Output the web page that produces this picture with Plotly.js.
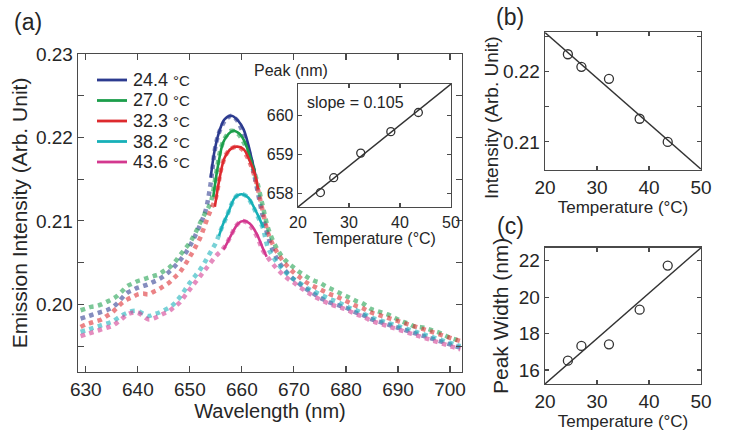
<!DOCTYPE html>
<html>
<head>
<meta charset="utf-8">
<script src="https://cdn.plot.ly/plotly-3.0.1.min.js"></script>
<style>
  html, body { margin: 0; padding: 0; background: #fff; }
  #chart { width: 736px; height: 442px; }
</style>
</head>
<body>
<div id="chart"></div>
<script>
// Emission spectra at five temperatures (nm, arb. unit)
const wavelength = [
  629,630,631,632,633,634,635,636,637,638,
  639,640,641,642,643,644,645,646,647,648,
  649,650,651,652,653,654,655,656,657,658,
  659,660,661,662,663,664,665,666,667,668,
  669,670,671,672,673,674,675,676,677,678,
  679,680,681,682,683,684,685,686,687,688,
  689,690,691,692,693,694,695,696,697,698,
  699,700,701,702
];

const tempLabels = ['24.4', '27.0', '32.3', '38.2', '43.6'];
const temperatures = [24.4, 27.0, 32.3, 38.2, 43.6];
const seriesColors = ['#2c3b8f', '#1c9e4b', '#dd2a2e', '#17b0b8', '#d3388f'];

const spectrum244 = [
  0.1983,0.1985,0.1987,0.1989,0.1991,0.1993,0.1996,0.2001,0.2008,0.2014,
  0.2017,0.2020,0.2022,0.2024,0.2027,0.2030,0.2034,0.2039,0.2045,0.2052,
  0.2060,0.2070,0.2082,0.2096,0.2112,0.2145,0.2192,0.2212,0.2222,0.2226,
  0.2221,0.2209,0.2190,0.2166,0.2136,0.2106,0.2082,0.2064,0.2052,0.2043,
  0.2036,0.2030,0.2025,0.2020,0.2016,0.2012,0.2008,0.2005,0.2002,0.2000,
  0.1998,0.1996,0.1993,0.1990,0.1988,0.1985,0.1982,0.1980,0.1978,0.1976,
  0.1974,0.1972,0.1970,0.1968,0.1966,0.1964,0.1962,0.1960,0.1958,0.1956,
  0.1954,0.1952,0.1950,0.1948
];
const spectrum270 = [
  0.1993,0.1995,0.1997,0.1998,0.2000,0.2003,0.2006,0.2010,0.2016,0.2022,
  0.2025,0.2028,0.2030,0.2032,0.2034,0.2036,0.2040,0.2044,0.2050,0.2058,
  0.2066,0.2074,0.2085,0.2098,0.2110,0.2122,0.2155,0.2188,0.2202,0.2208,
  0.2206,0.2198,0.2185,0.2167,0.2145,0.2118,0.2092,0.2076,0.2064,0.2055,
  0.2049,0.2044,0.2039,0.2035,0.2031,0.2028,0.2026,0.2022,0.2019,0.2016,
  0.2013,0.2010,0.2007,0.2004,0.2002,0.1998,0.1994,0.1992,0.1990,0.1988,
  0.1985,0.1982,0.1979,0.1977,0.1974,0.1973,0.1972,0.1970,0.1968,0.1966,
  0.1963,0.1960,0.1958,0.1956
];
const spectrum323 = [
  0.1973,0.1976,0.1978,0.1980,0.1982,0.1986,0.1990,0.1996,0.2002,0.2006,
  0.2009,0.2012,0.2013,0.2012,0.2015,0.2018,0.2022,0.2026,0.2032,0.2038,
  0.2047,0.2057,0.2068,0.2080,0.2097,0.2113,0.2128,0.2162,0.2180,0.2187,
  0.2189,0.2186,0.2177,0.2162,0.2140,0.2112,0.2086,0.2071,0.2060,0.2051,
  0.2044,0.2038,0.2033,0.2028,0.2024,0.2021,0.2018,0.2015,0.2012,0.2010,
  0.2007,0.2004,0.2001,0.1998,0.1996,0.1993,0.1990,0.1988,0.1986,0.1984,
  0.1982,0.1980,0.1978,0.1976,0.1974,0.1972,0.1970,0.1968,0.1966,0.1964,
  0.1962,0.1960,0.1958,0.1956
];
const spectrum382 = [
  0.1967,0.1969,0.1971,0.1973,0.1975,0.1977,0.1979,0.1983,0.1987,0.1990,
  0.1992,0.1992,0.1989,0.1986,0.1988,0.1990,0.1993,0.1996,0.2001,0.2008,
  0.2017,0.2026,0.2034,0.2042,0.2052,0.2063,0.2074,0.2090,0.2104,0.2120,
  0.2130,0.2132,0.2129,0.2119,0.2106,0.2092,0.2068,0.2057,0.2048,0.2041,
  0.2035,0.2030,0.2026,0.2022,0.2018,0.2015,0.2012,0.2009,0.2006,0.2004,
  0.2001,0.1998,0.1995,0.1993,0.1990,0.1987,0.1984,0.1982,0.1980,0.1978,
  0.1976,0.1974,0.1972,0.1970,0.1968,0.1966,0.1964,0.1962,0.1960,0.1958,
  0.1956,0.1954,0.1952,0.1950
];
const spectrum436 = [
  0.1962,0.1964,0.1966,0.1968,0.1970,0.1972,0.1974,0.1978,0.1983,0.1988,
  0.1990,0.1990,0.1986,0.1982,0.1983,0.1986,0.1989,0.1992,0.1997,0.2002,
  0.2010,0.2018,0.2026,0.2034,0.2042,0.2050,0.2058,0.2064,0.2072,0.2084,
  0.2095,0.2100,0.2098,0.2091,0.2080,0.2065,0.2056,0.2048,0.2041,0.2035,
  0.2030,0.2026,0.2021,0.2017,0.2013,0.2009,0.2006,0.2003,0.2000,0.1998,
  0.1996,0.1994,0.1991,0.1988,0.1986,0.1983,0.1980,0.1978,0.1976,0.1974,
  0.1972,0.1970,0.1968,0.1966,0.1964,0.1962,0.1960,0.1958,0.1956,0.1954,
  0.1952,0.1950,0.1948,0.1946
];

// Fitted peak curves around the emission maximum
const fit244X = [654.0, 654.8, 655.8, 656.7, 658.0, 659.3, 660.3, 661.2, 661.9, 662.6];
const fit244Y = [0.2152, 0.2186, 0.2210, 0.2222, 0.2226, 0.2220, 0.2210, 0.2192, 0.2174, 0.2155];
const fit270X = [654.5, 655.4, 656.4, 657.4, 658.3, 659.6, 660.6, 661.5, 662.5];
const fit270Y = [0.2129, 0.2166, 0.2194, 0.2204, 0.2208, 0.2204, 0.2194, 0.2178, 0.2158];
const fit323X = [654.8, 655.8, 656.7, 658.0, 659.1, 660.3, 661.5, 662.5, 663.1];
const fit323Y = [0.2117, 0.2154, 0.2176, 0.2187, 0.2189, 0.2186, 0.2172, 0.2156, 0.2138];
const fit382X = [655.6, 656.5, 657.4, 658.65, 659.9, 661.2, 662.5, 663.3, 664.1];
const fit382Y = [0.2082, 0.2098, 0.2110, 0.2128, 0.2132, 0.2128, 0.2114, 0.2104, 0.2092];
const fit436X = [656.5, 657.2, 658.0, 659.3, 660.25, 661.5, 662.8, 664.1, 664.75];
const fit436Y = [0.2066, 0.2074, 0.2084, 0.2097, 0.2100, 0.2097, 0.2085, 0.2066, 0.2057];

// Peak position vs temperature (inset) and its linear fit
const peakNm = [658.02, 658.40, 659.03, 659.58, 660.07];
const peakSlope = 0.105;
const peakAt20 = 657.65;
const fitTemps = [20, 50];

// Peak intensity and peak width vs temperature
const peakIntensity = [0.2225, 0.2207, 0.2190, 0.2133, 0.2100];
const intensityFit = [0.2256, 0.2061];
const peakWidth = [16.51, 17.32, 17.41, 19.31, 21.73];
const widthFit = [15.23, 22.71];

// Tick values and labels
const wlTicks = [630, 640, 650, 660, 670, 680, 690, 700];
const emTicks = [0.195, 0.200, 0.205, 0.210, 0.215, 0.220, 0.225, 0.230];
const emTickText = ['', '0.20', '', '0.21', '', '0.22', '', '0.23'];
const tempTicks = [20, 30, 40, 50];
const peakTicks = [658, 659, 660];
const intTicks = [0.210, 0.215, 0.220, 0.225];
const intTickText = ['0.21', '', '0.22', ''];
const widthTicks = [16, 18, 20, 22];

const spectra = [spectrum244, spectrum270, spectrum323, spectrum382, spectrum436];
const fitsX = [fit244X, fit270X, fit323X, fit382X, fit436X];
const fitsY = [fit244Y, fit270Y, fit323Y, fit382Y, fit436Y];

const W = 736, H = 442;
const px = v => v / W;
const py = v => 1 - v / H;

const axisColor = '#4a4a4a';
const textColor = '#262626';

function axisStyle(extra) {
  return Object.assign({
    showline: true, linecolor: axisColor, linewidth: 1.3, mirror: 'ticks',
    ticks: 'inside', ticklen: 5, tickwidth: 1.1, tickcolor: axisColor,
    showgrid: false, zeroline: false, fixedrange: true,
    tickfont: { size: 19, color: textColor }
  }, extra);
}

const traces = [];

// measured spectra: dense dotted bands
spectra.forEach((s, i) => {
  traces.push({
    x: wavelength, y: s, xaxis: 'x', yaxis: 'y',
    type: 'scatter', mode: 'lines', showlegend: false, hoverinfo: 'skip',
    line: { color: seriesColors[i], width: 4.5, dash: 'dot', shape: 'spline' },
    opacity: 0.58
  });
});

// fitted peaks
fitsX.forEach((fx, i) => {
  traces.push({
    x: fx, y: fitsY[i], xaxis: 'x', yaxis: 'y',
    type: 'scatter', mode: 'lines', showlegend: false,
    line: { color: seriesColors[i], width: 2.6, shape: 'spline' }
  });
});

const circle = { symbol: 'circle-open', size: 9, color: '#333', line: { width: 1.3, color: '#333' } };
const fitLine = { color: '#333', width: 1.4 };

// inset: peak position
traces.push({
  x: fitTemps, y: fitTemps.map(t => peakAt20 + peakSlope * (t - 20)),
  xaxis: 'x2', yaxis: 'y2', mode: 'lines', line: fitLine, showlegend: false
});
traces.push({
  x: temperatures, y: peakNm, xaxis: 'x2', yaxis: 'y2',
  mode: 'markers', marker: Object.assign({}, circle, { size: 8 }), showlegend: false
});

// (b) peak intensity
traces.push({
  x: fitTemps, y: intensityFit, xaxis: 'x3', yaxis: 'y3',
  mode: 'lines', line: fitLine, showlegend: false
});
traces.push({
  x: temperatures, y: peakIntensity, xaxis: 'x3', yaxis: 'y3',
  mode: 'markers', marker: circle, showlegend: false
});

// (c) peak width
traces.push({
  x: fitTemps, y: widthFit, xaxis: 'x4', yaxis: 'y4',
  mode: 'lines', line: fitLine, showlegend: false
});
traces.push({
  x: temperatures, y: peakWidth, xaxis: 'x4', yaxis: 'y4',
  mode: 'markers', marker: circle, showlegend: false
});

// legend block for panel (a): swatch + label per temperature
const legendTop = 80, legendStep = 20.5;
const legendShapes = tempLabels.map((t, i) => ({
  type: 'line', xref: 'paper', yref: 'paper',
  x0: px(97), x1: px(127), y0: py(legendTop + i * legendStep), y1: py(legendTop + i * legendStep),
  line: { color: seriesColors[i], width: 2.8 }
}));
const legendNotes = tempLabels.map((t, i) => ({
  text: t + ' <span style="font-size:15px">°C</span>',
  x: px(131), y: py(legendTop + i * legendStep), xref: 'paper', yref: 'paper',
  xanchor: 'left', yanchor: 'middle', showarrow: false,
  font: { size: 18, color: textColor }
}));

const layout = {
  width: W, height: H,
  margin: { l: 0, r: 0, t: 0, b: 0 },
  paper_bgcolor: '#fff', plot_bgcolor: '#fff',
  font: { family: 'Liberation Sans, Arial, sans-serif', color: textColor },
  showlegend: false,
  xaxis: axisStyle({
    domain: [px(78), px(462)], range: [628.5, 702.3], anchor: 'y',
    tickvals: wlTicks, ticklen: 6,
    title: { text: 'Wavelength (nm)', font: { size: 20, color: textColor }, standoff: 4 }
  }),
  yaxis: axisStyle({
    domain: [py(372), py(54)], range: [0.1919, 0.2300], anchor: 'x',
    tickvals: emTicks, ticktext: emTickText, ticklen: 6,
    title: { text: 'Emission Intensity (Arb. Unit)', font: { size: 21, color: textColor }, standoff: 2 }
  }),
  xaxis2: axisStyle({
    domain: [px(298), px(451)], range: [20, 50], anchor: 'y2',
    tickvals: tempTicks, ticklen: 4, tickfont: { size: 16, color: textColor },
    title: { text: 'Temperature (°C)', font: { size: 16, color: textColor }, standoff: 0 }
  }),
  yaxis2: axisStyle({
    domain: [py(207), py(84)], range: [657.65, 660.8], anchor: 'x2',
    tickvals: peakTicks, ticklen: 4, tickfont: { size: 16, color: textColor }
  }),
  xaxis3: axisStyle({
    domain: [px(545), px(701)], range: [20, 50], anchor: 'y3',
    tickvals: tempTicks, ticklen: 4,
    title: { text: 'Temperature (°C)', font: { size: 17, color: textColor }, standoff: 3 }
  }),
  yaxis3: axisStyle({
    domain: [py(169.5), py(32.3)], range: [0.20606, 0.22563], anchor: 'x3',
    tickvals: intTicks, ticktext: intTickText, ticklen: 4
  }),
  xaxis4: axisStyle({
    domain: [px(545), px(701)], range: [20, 50], anchor: 'y4',
    tickvals: tempTicks, ticklen: 4,
    title: { text: 'Temperature (°C)', font: { size: 17, color: textColor }, standoff: 3 }
  }),
  yaxis4: axisStyle({
    domain: [py(384), py(247.7)], range: [15.23, 22.71], anchor: 'x4',
    tickvals: widthTicks, ticklen: 4,
    title: { text: 'Peak Width (nm)', font: { size: 21, color: textColor }, standoff: 4 }
  }),
  shapes: legendShapes,
  annotations: legendNotes.concat([
    { text: 'Intensity (Arb. Unit)', x: px(492), y: py(118), xref: 'paper', yref: 'paper',
      showarrow: false, textangle: -90, xanchor: 'center', yanchor: 'middle',
      font: { size: 19, color: textColor } },
    { text: '(a)', x: px(28), y: py(22), xref: 'paper', yref: 'paper', showarrow: false,
      xanchor: 'center', yanchor: 'middle', font: { size: 23, color: textColor } },
    { text: '(b)', x: px(510), y: py(17), xref: 'paper', yref: 'paper', showarrow: false,
      xanchor: 'center', yanchor: 'middle', font: { size: 23, color: textColor } },
    { text: '(c)', x: px(510), y: py(226), xref: 'paper', yref: 'paper', showarrow: false,
      xanchor: 'center', yanchor: 'middle', font: { size: 23, color: textColor } },
    { text: 'Peak (nm)', x: px(291), y: py(70), xref: 'paper', yref: 'paper', showarrow: false,
      xanchor: 'center', yanchor: 'middle', font: { size: 16, color: textColor } },
    { text: 'slope = ' + peakSlope.toFixed(3), x: px(355), y: py(102), xref: 'paper', yref: 'paper',
      showarrow: false, xanchor: 'center', yanchor: 'middle', font: { size: 16, color: textColor } }
  ])
};

Plotly.newPlot('chart', traces, layout, { staticPlot: true, displayModeBar: false });
</script>
</body>
</html>
